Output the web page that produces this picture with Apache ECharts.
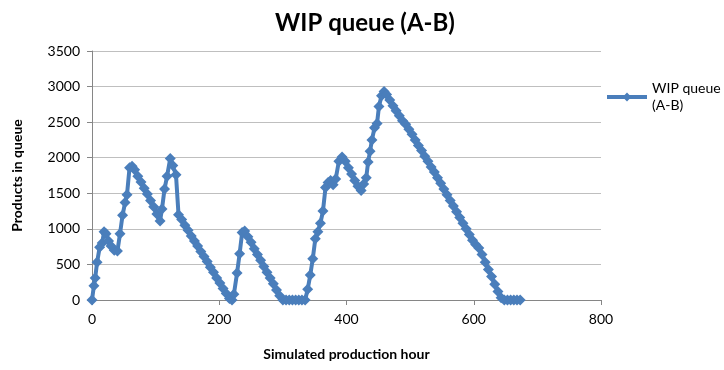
<!DOCTYPE html>
<html>
<head>
<meta charset="utf-8">
<script src="https://cdn.jsdelivr.net/npm/echarts@6/dist/echarts.min.js"></script>
<style>
  html, body { margin: 0; padding: 0; background: #fff; }
  #chart { width: 724px; height: 370px; }
</style>
</head>
<body>
<div id="chart"></div>
<script>
// Simulated production hour for each sample
const hours = [
  0, 3, 5, 8, 12, 16, 19, 22, 26, 30, 35, 40, 44, 48, 52, 55, 59, 63, 67, 72,
  77, 82, 87, 92, 97, 102, 107, 110, 114, 118, 123, 127, 132, 136, 141, 146, 151, 156, 161, 166,
  171, 176, 181, 186, 191, 196, 201, 206, 211, 216, 220, 223, 228, 232, 236, 240, 245, 250, 255, 260,
  265, 270, 275, 280, 285, 290, 295, 300, 305, 310, 315, 320, 325, 330, 335, 339, 343, 347, 351, 355,
  359, 363, 367, 371, 375, 379, 383, 388, 393, 398, 403, 408, 413, 418, 423, 427, 431, 434, 437, 440,
  444, 448, 451, 455, 459, 463, 468, 473, 478, 483, 488, 493, 498, 503, 508, 513, 518, 523, 528, 533,
  538, 543, 548, 553, 558, 563, 568, 573, 578, 583, 588, 593, 598, 603, 608, 613, 618, 623, 628, 633,
  638, 643, 648, 653, 658, 663, 668, 673
];
// Products waiting in the A-B queue at that hour
const wipQueue = [
  0, 200, 310, 530, 740, 800, 960, 930, 830, 760, 700, 690, 930, 1190, 1370, 1480, 1860, 1880, 1830, 1740,
  1660, 1570, 1490, 1400, 1310, 1210, 1110, 1280, 1560, 1740, 1990, 1890, 1760, 1200, 1130, 1050, 980, 900, 830, 760,
  680, 610, 540, 460, 390, 310, 240, 160, 90, 20, 0, 80, 380, 650, 950, 970, 890, 810, 720, 640,
  560, 470, 390, 310, 230, 140, 60, 0, 0, 0, 0, 0, 0, 0, 0, 150, 350, 580, 860, 960,
  1080, 1250, 1580, 1650, 1680, 1620, 1700, 1950, 2010, 1950, 1860, 1770, 1680, 1600, 1540, 1630, 1720, 1940, 2090, 2250,
  2420, 2480, 2720, 2870, 2930, 2890, 2810, 2730, 2660, 2590, 2520, 2470, 2400, 2330, 2250, 2170, 2100, 2020, 1950, 1870,
  1800, 1720, 1640, 1560, 1480, 1400, 1320, 1240, 1160, 1080, 1000, 920, 840, 780, 730, 640, 530, 430, 330, 220,
  120, 30, 0, 0, 0, 0, 0, 0
];
const seriesName = 'WIP queue (A-B)';
const xTicks = [0, 200, 400, 600, 800];
const yTicks = [0, 500, 1000, 1500, 2000, 2500, 3000, 3500];

const points = hours.map((h, i) => [h, wipQueue[i]]);
const FONT = 'Lato';
const BLUE = '#4a7ebb';

const chart = echarts.init(document.getElementById('chart'), null, { renderer: 'canvas' });
chart.setOption({
  animation: false,
  backgroundColor: '#ffffff',
  title: {
    text: 'WIP queue (A-B)',
    left: 360,
    textAlign: 'center',
    top: 6,
    textStyle: { fontFamily: FONT, fontSize: 24, fontWeight: 'bold', color: '#000' }
  },
  legend: {
    left: 605,
    top: 80,
    padding: 0,
    orient: 'vertical',
    itemWidth: 40,
    itemHeight: 11,
    itemGap: 4,
    formatter: () => 'WIP queue\n(A-B)',
    lineStyle: { width: 4, color: BLUE },
    itemStyle: { color: BLUE },
    textStyle: { fontFamily: FONT, fontSize: 14, color: '#000', lineHeight: 17 },
    data: [seriesName]
  },
  grid: { left: 92, right: 123, top: 51, bottom: 70 },
  xAxis: {
    type: 'value',
    min: xTicks[0],
    max: xTicks[xTicks.length - 1],
    interval: xTicks[1] - xTicks[0],
    name: 'Simulated production hour',
    nameLocation: 'middle',
    nameGap: 47,
    nameTextStyle: { fontFamily: FONT, fontSize: 14, fontWeight: 'bold', color: '#000' },
    axisLine: { show: true, lineStyle: { color: '#868686', width: 1 } },
    axisTick: { show: true, length: 5, lineStyle: { color: '#868686' } },
    axisLabel: { fontFamily: FONT, fontSize: 14, color: '#000', margin: 12 },
    splitLine: { show: false }
  },
  yAxis: {
    type: 'value',
    min: yTicks[0],
    max: yTicks[yTicks.length - 1],
    interval: yTicks[1] - yTicks[0],
    name: 'Products in queue',
    nameLocation: 'middle',
    nameGap: 68,
    nameTextStyle: { fontFamily: FONT, fontSize: 14, fontWeight: 'bold', color: '#000' },
    axisLine: { show: true, lineStyle: { color: '#868686', width: 1 } },
    axisTick: { show: true, length: 5, lineStyle: { color: '#868686' } },
    axisLabel: { fontFamily: FONT, fontSize: 14, color: '#000', margin: 12, formatter: v => String(v) },
    splitLine: { show: true, lineStyle: { color: '#bfbfbf', width: 1 } }
  },
  series: [{
    name: seriesName,
    type: 'line',
    data: points,
    symbol: 'diamond',
    symbolSize: 11,
    showAllSymbol: true,
    lineStyle: { color: BLUE, width: 4 },
    itemStyle: { color: BLUE, borderWidth: 0 }
  }]
});
</script>
</body>
</html>
